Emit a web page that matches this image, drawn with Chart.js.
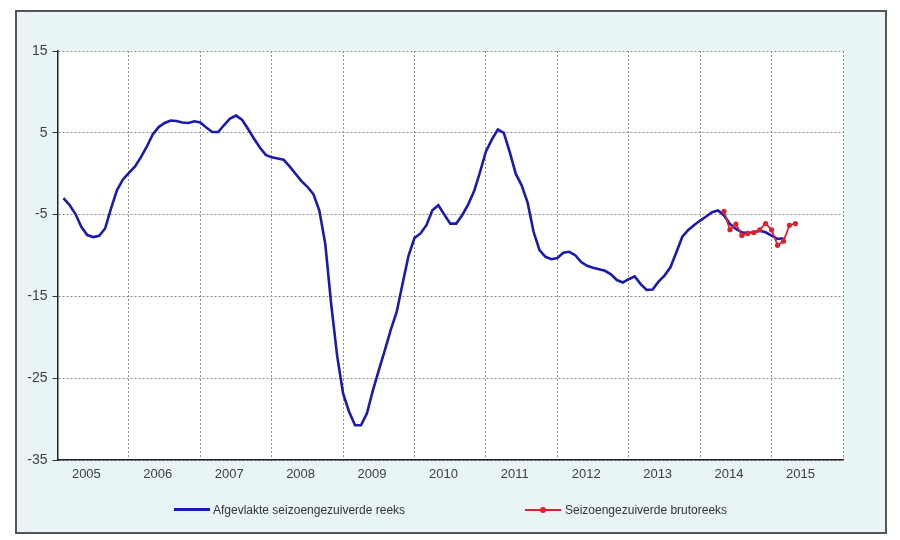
<!DOCTYPE html>
<html>
<head>
<meta charset="utf-8">
<script src="https://cdn.jsdelivr.net/npm/chart.js@4.4.1/dist/chart.umd.min.js"></script>
<style>
  body { margin: 0; background: #ffffff; font-family: "Liberation Sans", Arial, sans-serif; }
  #wrap { position: relative; width: 900px; height: 540px; overflow: hidden; }
  #frame {
    position: absolute; left: 15px; top: 10px; width: 868px; height: 520px;
    background: #e8f4f6; border: 2px solid #555;
  }
  #chartBox { position: absolute; left: 0; top: 0; width: 900px; height: 540px; }
  .legendItem { position: absolute; top: 502px; height: 16px; font-size: 12px; color: #333; line-height: 16px; }
  .legendLine { position: absolute; top: 7px; }
  .legendDot { position: absolute; top: 5px; width: 6px; height: 6px; border-radius: 50%; }
</style>
</head>
<body>
<div id="wrap">
  <div id="frame"></div>
  <div id="chartBox"><canvas id="myChart" width="900" height="540"></canvas></div>
  <div id="legend"></div>
</div>
<script>
// years shown under the x axis, x values are months counted from Jan 2005
const years = ["2005", "2006", "2007", "2008", "2009", "2010", "2011", "2012", "2013", "2014", "2015"];
const yTicks = [-35, -25, -15, -5, 5, 15];

// smoothed seasonally adjusted series, monthly, first point = month 1
const smoothStart = 1;
const smoothValues = [
  -3.0, -3.8, -4.9, -6.5, -7.5, -7.75, -7.6, -6.7, -4.25, -2.0, -0.7, 0.1,
  0.85, 2.0, 3.3, 4.8, 5.7, 6.2, 6.5, 6.45, 6.25, 6.2, 6.4, 6.25,
  5.65, 5.1, 5.1, 5.95, 6.75, 7.1, 6.6, 5.5, 4.3, 3.2, 2.3, 2.0,
  1.85, 1.7, 0.9, 0.0, -0.9, -1.6, -2.5, -4.5, -8.6, -16.0, -22.3, -26.9,
  -29.1, -30.75, -30.75, -29.3, -26.5, -24.0, -21.6, -19.1, -16.9, -13.4, -10.0, -7.85,
  -7.3, -6.3, -4.47, -3.86, -5.0, -6.1, -6.1, -5.08, -3.78, -2.15, 0.2, 2.72,
  4.19, 5.4, 5.0, 2.64, 0.0, -1.42, -3.54, -7.1, -9.35, -10.16, -10.45, -10.3,
  -9.67, -9.55, -9.96, -10.8, -11.26, -11.5, -11.67, -11.87, -12.3, -13.0, -13.3, -12.9,
  -12.55, -13.5, -14.2, -14.15, -13.2, -12.46, -11.44, -9.6, -7.7, -6.87, -6.26, -5.73,
  -5.24, -4.7, -4.5, -5.1, -6.14, -6.75, -7.16, -7.24, -7.16, -6.96, -7.16, -7.57,
  -7.98, -7.9
];

// raw seasonally adjusted series
const rawStart = 112;
const rawValues = [-4.6, -6.85, -6.15, -7.55, -7.3, -7.2, -6.85, -6.1, -6.85, -8.75, -8.25, -6.3, -6.1];

const blueColor = "#1a1ab0";
const redColor = "#e0202a";

function toPoints(start, values) {
  let points = [];
  for (let i = 0; i < values.length; i++) {
    points.push({ x: start + i, y: values[i] });
  }
  return points;
}

const plotBackground = {
  id: "plotBackground",
  beforeDraw(chart) {
    let area = chart.chartArea;
    let ctx = chart.ctx;
    ctx.save();
    ctx.fillStyle = "#ffffff";
    ctx.fillRect(area.left, area.top, area.right - area.left, area.bottom - area.top);
    ctx.restore();
  },
};

const datasets = [
  {
    label: "Afgevlakte seizoengezuiverde reeks",
    data: toPoints(smoothStart, smoothValues),
    borderColor: blueColor,
    borderWidth: 2.6,
    pointRadius: 0,
    tension: 0,
    order: 1,
  },
  {
    label: "Seizoengezuiverde brutoreeks",
    data: toPoints(rawStart, rawValues),
    borderColor: redColor,
    backgroundColor: redColor,
    borderWidth: 1.8,
    pointRadius: 2.6,
    pointBorderWidth: 0,
    tension: 0,
    order: 0,
  },
];

const ctx = document.getElementById("myChart");

new Chart(ctx, {
  type: "line",
  data: { datasets: datasets },
  plugins: [plotBackground],
  options: {
    responsive: false,
    animation: false,
    layout: {
      padding: { left: 15, top: 51, right: 57, bottom: 50 },
    },
    scales: {
      x: {
        type: "linear",
        min: 0,
        max: 132,
        afterBuildTicks: (axis) => {
          let ticks = [];
          for (let i = 0; i <= years.length; i++) {
            ticks.push({ value: i * 12 });
            if (i < years.length) ticks.push({ value: i * 12 + 4.85 });
          }
          axis.ticks = ticks;
        },
        afterFit: (axis) => {
          axis.height = 30;
        },
        grid: {
          color: (c) => (c.tick && c.tick.value % 12 === 0 ? "#8c8c8c" : "rgba(0,0,0,0)"),
          lineWidth: 1,
          drawTicks: false,
        },
        border: { display: true, color: "#222", width: 1.5, dash: [2, 2] },
        ticks: {
          autoSkip: false,
          maxRotation: 0,
          padding: 7,
          color: "#404040",
          font: { family: "'Liberation Sans', Arial, sans-serif", size: 13 },
          callback: (value) => {
            if (value % 12 === 0) return "";
            return years[Math.round((value - 4.85) / 12)];
          },
        },
      },
      y: {
        min: -35,
        max: 15,
        afterBuildTicks: (axis) => {
          axis.ticks = yTicks.map((v) => ({ value: v }));
        },
        afterFit: (axis) => {
          axis.width = 42.5;
        },
        grid: {
          color: "#8c8c8c",
          lineWidth: 1,
          drawTicks: true,
          tickLength: 5,
          tickColor: "#333",
        },
        border: { display: true, color: "#222", width: 1.5, dash: [2, 2] },
        ticks: {
          padding: 5,
          color: "#404040",
          font: { family: "'Liberation Sans', Arial, sans-serif", size: 14 },
        },
      },
    },
    plugins: {
      legend: { display: false },
      tooltip: { enabled: false },
    },
  },
});

function renderLegend() {
  let legend = document.getElementById("legend");
  legend.innerHTML = `
    <div class="legendItem" style="left: 174px;">
      <div class="legendLine" style="left: 0; width: 36px; height: 3px; top: 6px; background-color: ${datasets[0].borderColor}"></div>
      <span style="position: absolute; left: 39px; white-space: nowrap;">${datasets[0].label}</span>
    </div>
    <div class="legendItem" style="left: 525px;">
      <div class="legendLine" style="left: 0; width: 36px; height: 2px; background-color: ${datasets[1].borderColor}"></div>
      <div class="legendDot" style="left: 15px; background-color: ${datasets[1].borderColor}"></div>
      <span style="position: absolute; left: 40px; white-space: nowrap;">${datasets[1].label}</span>
    </div>`;
}

renderLegend();
</script>
</body>
</html>
